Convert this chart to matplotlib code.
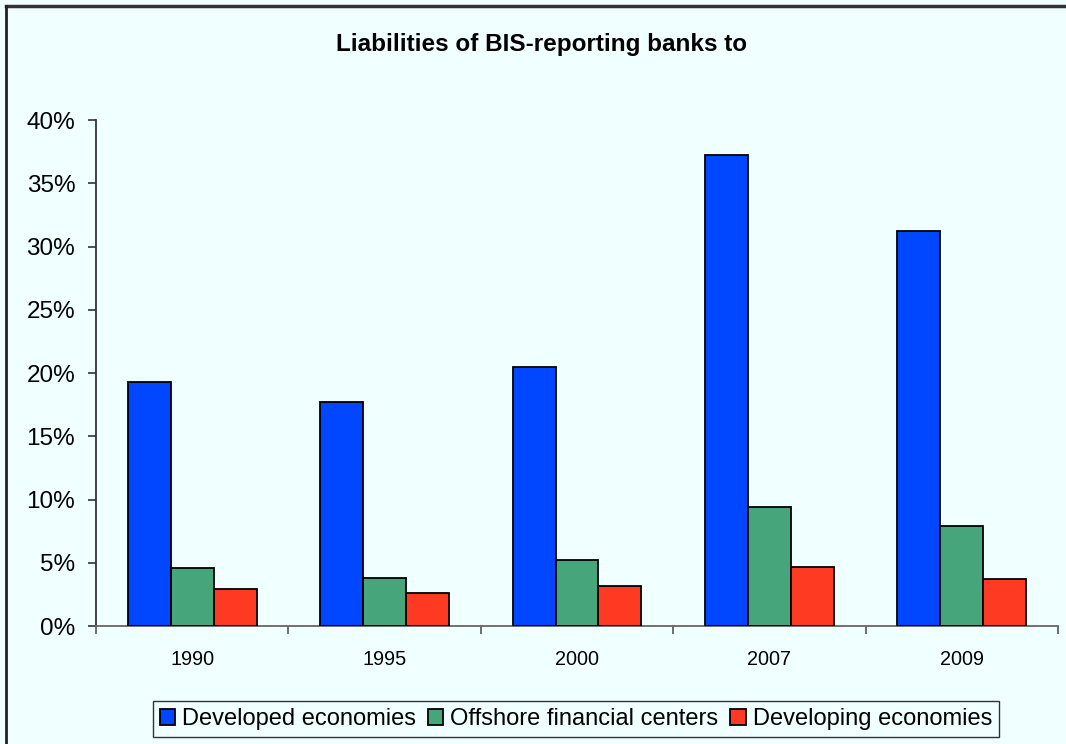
import matplotlib
matplotlib.use("Agg")
import matplotlib.pyplot as plt
import numpy as np
from matplotlib.lines import Line2D
from matplotlib.ticker import FuncFormatter

years = ["1990", "1995", "2000", "2007", "2009"]
developed = [19.3, 17.7, 20.5, 37.2, 31.2]
offshore = [4.6, 3.8, 5.2, 9.4, 7.9]
developing = [2.9, 2.6, 3.2, 4.7, 3.7]
series_names = ["Developed economies", "Offshore financial centers", "Developing economies"]
colors = ["#0047FF", "#46A57A", "#FF3A22"]
bg = "#F0FFFF"

plt.rcParams['font.family'] = ['Liberation Sans', 'DejaVu Sans']

fig = plt.figure(figsize=(10.66, 7.44), dpi=100, facecolor=bg)
ax = fig.add_axes([0.0901, 0.1586, 0.9024, 0.6801], facecolor=bg)

x = np.arange(len(years))
w = 0.223
for i, (vals, name, c) in enumerate(zip([developed, offshore, developing], series_names, colors)):
    ax.bar(x + (i - 1) * w, vals, width=w, color=c, edgecolor="black", linewidth=1.3, label=name, zorder=3)

ax.set_xlim(-0.5, len(years) - 0.5)
ax.set_ylim(0, 40)
ax.set_yticks(np.arange(0, 41, 5))
ax.yaxis.set_major_formatter(FuncFormatter(lambda v, p: f"{int(v)}%"))
ax.tick_params(axis='y', labelsize=17.5, length=6, width=1.2, color="#333333", pad=9)
ax.set_xticks(x)
ax.set_xticklabels(years)
ax.set_xticks(np.arange(-0.5, len(years), 1), minor=True)
ax.tick_params(axis='x', which='major', length=0, labelsize=14.3, pad=17)
ax.tick_params(axis='x', which='minor', length=6, width=1.2, color="#555555")

for s in ["top", "right"]:
    ax.spines[s].set_visible(False)
ax.spines["left"].set_color("#333333")
ax.spines["left"].set_linewidth(1.3)
ax.spines["bottom"].set_color("#666666")
ax.spines["bottom"].set_linewidth(1.3)

fig.text(0.508, 0.940, "Liabilities of BIS-reporting banks to", ha="center", va="center",
         fontsize=17.5, fontweight="bold")

leg = fig.legend(loc="center", bbox_to_anchor=(0.5403, 0.0336), ncol=3, fontsize=17,
                 frameon=True, fancybox=False, edgecolor="black", facecolor=bg,
                 handlelength=0.65, handleheight=0.65, handletextpad=0.3, columnspacing=0.5,
                 borderpad=0.3)
leg.get_frame().set_linewidth(1.0)

# figure border (top and left visible)
fig.add_artist(Line2D([0.0056, 1.0], [0.9913, 0.9913], transform=fig.transFigure, color="#333333", lw=2.5))
fig.add_artist(Line2D([0.0056, 0.0056], [0.0, 0.9913], transform=fig.transFigure, color="#222222", lw=2))

fig.savefig("out.png", dpi=100, facecolor=bg)
